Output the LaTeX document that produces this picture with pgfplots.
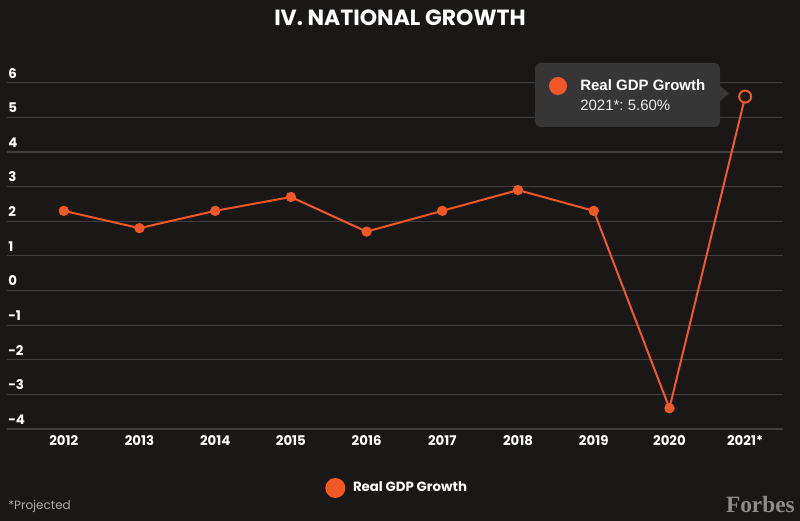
\documentclass[border=0pt]{standalone}
\usepackage{pgfplots}
\pgfplotsset{compat=1.18}
\usepackage{fontspec}
\setmainfont{Poppins}
\newfontfamily\tipfont{Liberation Sans}
\newfontfamily\logofont{Liberation Serif}
\definecolor{bg}{RGB}{26,24,23}
\definecolor{gridc}{RGB}{62,62,62}
\definecolor{gdp}{RGB}{240,88,40}
\definecolor{tipc}{RGB}{54,54,54}
\definecolor{graytxt}{RGB}{170,170,170}
\definecolor{logoc}{RGB}{140,140,140}
\frenchspacing
\begin{document}
\begin{tikzpicture}[x=0.75pt,y=0.75pt]
\fill[bg] (0,0) rectangle (800,521);
\node[anchor=base, inner sep=0pt, font=\bfseries\fontsize{16.5}{19}\selectfont, text=white] at (400,495) {IV. NATIONAL GROWTH};
\begin{axis}[
  at={(5.25pt,69pt)}, anchor=south west, scale only axis,
  width=582pt, height=259.7pt,
  xmin=-0.75, xmax=9.5, ymin=-4, ymax=6,
  axis line style={draw=none}, major tick length=0pt,
  ymajorgrids, grid style={draw=gridc, line width=0.9pt},
  xtick={0,...,9},
  xticklabels={2012,2013,2014,2015,2016,2017,2018,2019,2020,2021*},
  ytick={-4,-3,-2,-1,0,1,2,3,4,5,6},
  yticklabels={-4,-3,-2,-1,0,1,2,3,4,5,6},
  xticklabel style={anchor=base, yshift=-12.75pt, inner sep=0pt, text=white, font=\bfseries\fontsize{10}{12}\selectfont},
  yticklabel style={anchor=base west, xshift=0.75pt, yshift=3.5pt, inner sep=0pt, text=white, font=\bfseries\fontsize{10}{12}\selectfont},
  clip=false,
  legend style={at={(axis description cs:0.4099,-0.1704)}, anchor=west, draw=none, fill=none, text=white, font=\bfseries\fontsize{10}{12}\selectfont, inner sep=0pt},
  legend image code/.code={\fill[gdp] (0pt,0pt) circle (6.75pt); \path (10.5pt,0pt);},
]
\addplot[gdp, line width=1.5pt, mark=*, mark size=3.6pt, mark options={fill=gdp, draw=gdp, line width=0.5pt}]
  coordinates {(0,2.3) (1,1.8) (2,2.3) (3,2.7) (4,1.7) (5,2.3) (6,2.9) (7,2.3) (8,-3.4) (9,5.6)};
\addlegendentry{Real GDP Growth}
\addplot[forget plot, only marks, mark=*, mark size=4.5pt, mark options={fill=bg, draw=gdp, line width=1.5pt}]
  coordinates {(9,5.6)};
\end{axis}
% tooltip
\fill[tipc, rounded corners=4pt] (535,394) rectangle (720,458);
\fill[tipc] (719,436) -- (729,427.5) -- (719,419) -- cycle;
\fill[gdp] (558,435) circle (9);
\node[anchor=base west, inner sep=0pt, text=white, font=\tipfont\bfseries\fontsize{11.25}{13}\selectfont] at (580,430) {Real GDP Growth};
\node[anchor=base west, inner sep=0pt, text=white!92!black, font=\tipfont\fontsize{11.25}{13}\selectfont] at (580,410) {2021*: 5.60\%};
% footer
\node[anchor=base west, inner sep=0pt, text=graytxt, font=\fontsize{9}{11}\selectfont] at (8,11) {*Projected};
\node[anchor=base east, inner sep=0pt, text=logoc, font=\logofont\bfseries\fontsize{17.5}{20}\selectfont] at (795,8) {Forbes};
\end{tikzpicture}
\end{document}
